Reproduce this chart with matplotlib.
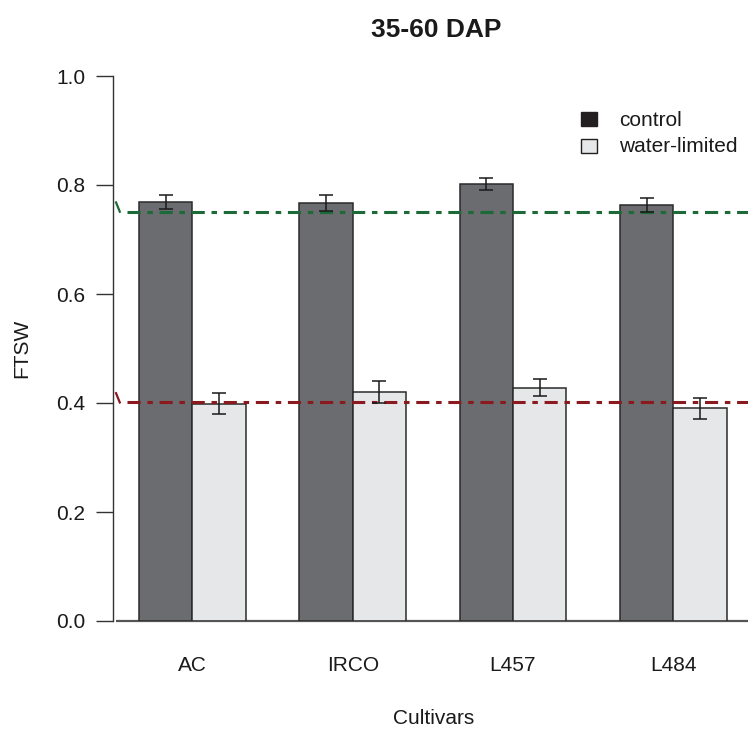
import matplotlib
matplotlib.use("Agg")
import matplotlib.pyplot as plt
from matplotlib.patches import Rectangle
import numpy as np

plt.rcParams['font.family'] = ['Liberation Sans', 'DejaVu Sans']

cultivars = ["AC", "IRCO", "L457", "L484"]
control = [0.769, 0.767, 0.801, 0.764]
control_err = [0.013, 0.014, 0.011, 0.013]
water_limited = [0.399, 0.420, 0.428, 0.390]
water_err = [0.019, 0.020, 0.016, 0.020]
ref_control = 0.751
ref_water = 0.401
series_names = ["control", "water-limited"]

W, H = 748, 731
fig = plt.figure(figsize=(W / 100, H / 100), dpi=100)

def px(x):
    return x / W
def py(y):
    return 1 - y / H

ax = fig.add_axes([px(113), py(621), 1 - px(113), py(76) - py(621)])
ax.set_xlim(0.513, 12.40)
ax.set_ylim(0, 1.0)

n = len(cultivars)
groups = np.arange(n) * 3
xc = groups + 1.5
xw = groups + 2.5

dark = "#6b6c6f"
light = "#e6e7e9"
edge = "#2a2a2a"

# baseline
ax.plot([0.57, 12.40], [0, 0], color="#555555", lw=1.6, zorder=1,
        solid_capstyle="butt", clip_on=False)

ax.bar(xc, control, width=1.0, color=dark, edgecolor=edge, linewidth=1.1, zorder=2)
ax.bar(xw, water_limited, width=1.0, color=light, edgecolor=edge, linewidth=1.1, zorder=2)
ax.errorbar(xc, control, yerr=control_err, fmt="none", ecolor="#1a1a1a",
            elinewidth=1.1, capsize=5.3, capthick=1.1, zorder=4)
ax.errorbar(xw, water_limited, yerr=water_err, fmt="none", ecolor="#1a1a1a",
            elinewidth=1.1, capsize=5.3, capthick=1.1, zorder=4)

green = "#1c6a37"
red = "#8b1a1f"
x_start = 0.766
for val, col in [(ref_control, green), (ref_water, red)]:
    ax.plot([x_start, 12.40], [val, val], color=col, lw=2.2,
            dashes=(4.3, 2.2, 1.8, 2.2), zorder=3, clip_on=False)
    # small hook at line start
    ax.plot([0.57, 0.64], [val + 0.017, val], color=col, lw=1.6, zorder=3,
            clip_on=False)

ax.spines['top'].set_visible(False)
ax.spines['right'].set_visible(False)
ax.spines['bottom'].set_visible(False)
ax.spines['left'].set_color("#333333")
ax.spines['left'].set_linewidth(1.0)

ax.set_yticks([0.0, 0.2, 0.4, 0.6, 0.8, 1.0])
ax.set_yticklabels(["0.0", "0.2", "0.4", "0.6", "0.8", "1.0"])
ax.tick_params(axis='y', length=12, width=1.0, color="#333333", pad=8,
               labelsize=15, labelcolor="#1a1a1a")
ax.set_xticks(groups + 2)
ax.set_xticklabels(cultivars)
ax.tick_params(axis='x', length=0, pad=25, labelsize=15, labelcolor="#1a1a1a")

fig.text(px(22), py(348), "FTSW", rotation=90, ha="center", va="center",
         fontsize=15, color="#1a1a1a")
fig.text(px(434), py(719), "Cultivars", ha="center", va="center",
         fontsize=15, color="#1a1a1a")
fig.text(px(436), py(30), "35-60 DAP", ha="center", va="center",
         fontsize=19, fontweight="bold", color="#1a1a1a")

# legend
leg_colors = ["#231f20", light]
leg_y = [120, 147]
for name, c, yy in zip(series_names, leg_colors, leg_y):
    fig.add_artist(Rectangle((px(581), py(yy + 6)), 16 / W, 14 / H,
                             transform=fig.transFigure, facecolor=c,
                             edgecolor="#231f20", linewidth=1.0))
    fig.text(px(619), py(yy), name, ha="left", va="center",
             fontsize=15, color="#1a1a1a")

fig.savefig("out.png", dpi=100)
